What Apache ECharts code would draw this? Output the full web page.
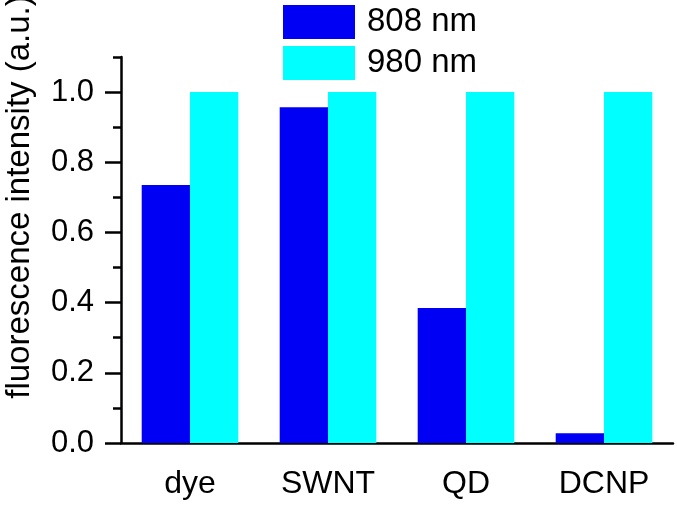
<!DOCTYPE html>
<html>
<head>
<meta charset="utf-8">
<script src="https://cdn.jsdelivr.net/npm/echarts@6.0.0/dist/echarts.min.js"></script>
<style>
  html, body { margin: 0; padding: 0; background: #fff; }
  #chart { width: 677px; height: 505px; }
</style>
</head>
<body>
<div id="chart"></div>
<script>
// data
const categories = ['dye', 'SWNT', 'QD', 'DCNP'];
const seriesNames = ['808 nm', '980 nm'];
const values808 = [0.735, 0.957, 0.385, 0.028];
const values980 = [1.0, 1.0, 1.0, 1.0];
const yMajorTicks = [0, 0.2, 0.4, 0.6, 0.8, 1.0];
const yMinorTicks = [0.1, 0.3, 0.5, 0.7, 0.9, 1.1];

const font = '"Liberation Sans", Arial, sans-serif';
const black = '#000';

const chart = echarts.init(document.getElementById('chart'));

const option = {
    animation: false,
    backgroundColor: '#fff',
    textStyle: { fontFamily: font },
    grid: {
        left: 121,
        right: 4,
        top: 57,
        bottom: 62,
        outerBoundsMode: 'none'
    },
    legend: {
        orient: 'vertical',
        left: 283,
        top: 5,
        padding: 0,
        itemWidth: 72,
        itemHeight: 34,
        itemGap: 7,
        icon: 'rect',
        data: seriesNames,
        textStyle: {
            fontFamily: font,
            fontSize: 33,
            color: black,
            padding: [0, 0, 0, 7]
        }
    },
    xAxis: {
        type: 'category',
        data: categories,
        axisLine: { lineStyle: { color: black, width: 2.5 } },
        axisTick: { alignWithLabel: true, length: 16, lineStyle: { color: black, width: 2.5 } },
        axisLabel: { color: black, fontSize: 32, margin: 25, fontFamily: font },
        splitLine: { show: false }
    },
    yAxis: [
        {
            type: 'value',
            min: 0,
            max: 1.1,
            position: 'left',
            name: 'fluorescence intensity (a.u.)',
            nameLocation: 'middle',
            nameGap: 85,
            nameRotate: 90,
            nameTextStyle: {
                fontFamily: font,
                fontSize: 33,
                color: black,
                padding: [0, 0, 0, 106]
            },
            axisLine: { show: true, lineStyle: { color: black, width: 2.5 } },
            axisTick: {
                show: true,
                length: 16,
                customValues: yMajorTicks,
                lineStyle: { color: black, width: 2.5 }
            },
            axisLabel: {
                color: black,
                fontSize: 31,
                margin: 27,
                fontFamily: font,
                customValues: yMajorTicks,
                formatter: v => v.toFixed(1)
            },
            splitLine: { show: false }
        },
        {
            type: 'value',
            min: 0,
            max: 1.1,
            position: 'left',
            offset: 0,
            axisLine: { show: false },
            axisTick: {
                show: true,
                length: 8,
                customValues: yMinorTicks,
                lineStyle: { color: black, width: 2.5 }
            },
            axisLabel: { show: false },
            splitLine: { show: false }
        }
    ],
    series: [
        {
            name: seriesNames[0],
            type: 'bar',
            data: values808,
            barCategoryGap: '30%',
            barGap: '0%',
            itemStyle: { color: '#0000f5' }
        },
        {
            name: seriesNames[1],
            type: 'bar',
            data: values980,
            barCategoryGap: '30%',
            barGap: '0%',
            itemStyle: { color: '#00ffff' }
        }
    ]
};

chart.setOption(option);
</script>
</body>
</html>
